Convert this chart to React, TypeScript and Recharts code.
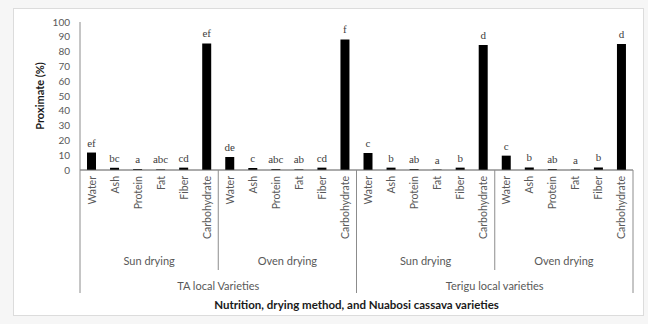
import { Bar, BarChart, LabelList, XAxis, YAxis } from "recharts";

const nutrients = ["Water", "Ash", "Protein", "Fat", "Fiber", "Carbohydrate"];
const dryingMethods = ["Sun drying", "Oven drying"];
const varieties = ["TA local Varieties", "Terigu local varieties"];

// proximate (%) per nutrient, same order as nutrients
const taSun = [11.8, 1.5, 0.6, 0.4, 1.6, 85.5];
const taOven = [8.8, 1.4, 0.6, 0.4, 1.6, 88.2];
const teriguSun = [11.5, 1.6, 0.6, 0.3, 1.6, 84.5];
const teriguOven = [9.7, 1.7, 0.6, 0.3, 1.7, 85.2];

const taSunLetters = ["ef", "bc", "a", "abc", "cd", "ef"];
const taOvenLetters = ["de", "c", "abc", "ab", "cd", "f"];
const teriguSunLetters = ["c", "b", "ab", "a", "b", "d"];
const teriguOvenLetters = ["c", "b", "ab", "a", "b", "d"];

const yTicks = [0, 10, 20, 30, 40, 50, 60, 70, 80, 90, 100];

const series = [
  [taSun, taSunLetters],
  [taOven, taOvenLetters],
  [teriguSun, teriguSunLetters],
  [teriguOven, teriguOvenLetters],
] as const;

const rows = series.flatMap(([values, letters], s) =>
  nutrients.map((n, i) => ({
    id: `${s}-${n}`,
    nutrient: n,
    variety: varieties[Math.floor(s / 2)],
    drying: dryingMethods[s % 2],
    value: values[i],
    letter: letters[i],
  }))
);

const W = 648;
const H = 324;
const MARGIN = { top: 22, right: 15, bottom: 14, left: 20 };
const Y_AXIS_W = 60;
const PLOT_W = W - MARGIN.left - MARGIN.right - Y_AXIS_W;
const BAND = PLOT_W / rows.length;

const FONT = "Lato, 'Open Sans', sans-serif";
const GREY = "#595959";
const LINE = "#8c8c8c";

function CategoryTick(props: any) {
  const { x, y, payload } = props;
  const idx = rows.findIndex((r) => r.id === payload.value);
  const row = rows[idx];
  const axisY = y - 6;
  const pos = idx % nutrients.length;
  const left = x - BAND / 2;
  const right = x + BAND / 2;
  const isVarietyStart = idx % (nutrients.length * 2) === 0;

  return (
    <g>
      <text
        x={x}
        y={y}
        transform={`rotate(-90, ${x}, ${y})`}
        textAnchor="end"
        dominantBaseline="central"
        fontSize={10.5}
        fontFamily={FONT}
        fill={GREY}
      >
        {row.nutrient}
      </text>
      {pos === 0 && (
        <line
          x1={left}
          x2={left}
          y1={axisY}
          y2={axisY + (isVarietyStart ? 123 : 100)}
          stroke={LINE}
        />
      )}
      {idx === rows.length - 1 && (
        <line x1={right} x2={right} y1={axisY} y2={axisY + 123} stroke={LINE} />
      )}
      {pos === 2 && (
        <text
          x={right}
          y={axisY + 95}
          textAnchor="middle"
          fontSize={11}
          fontFamily={FONT}
          fill={GREY}
        >
          {row.drying}
        </text>
      )}
      {idx % (nutrients.length * 2) === nutrients.length - 1 && (
        <text
          x={right}
          y={axisY + 120}
          textAnchor="middle"
          fontSize={11}
          fontFamily={FONT}
          fill={GREY}
        >
          {row.variety}
        </text>
      )}
    </g>
  );
}

export default function App() {
  return (
    <div
      style={{
        position: "absolute",
        left: 0,
        top: 0,
        width: W,
        height: H,
        background: "#f6f6f6",
      }}
    >
      <div
        style={{
          position: "absolute",
          left: 13,
          top: 8,
          width: 629,
          height: 306,
          background: "#fff",
          border: "1px solid #dcdcdc",
        }}
      />
      <div style={{ position: "absolute", left: 0, top: 0 }}>
        <BarChart width={W} height={H} data={rows} margin={MARGIN}>
          <XAxis
            dataKey="id"
            interval={0}
            height={140}
            tickLine={false}
            tickSize={0}
            tickMargin={6}
            axisLine={{ stroke: "#595959" }}
            tick={<CategoryTick />}
            label={{
              content: (p: any) => {
                const vb = p.viewBox;
                return (
                  <text
                    x={vb.x + vb.width / 2}
                    y={vb.y + 139}
                    textAnchor="middle"
                    fontSize={11.5}
                    fontWeight="bold"
                    fontFamily={FONT}
                    fill="#1a1a1a"
                  >
                    Nutrition, drying method, and Nuabosi cassava varieties
                  </text>
                );
              },
            }}
          />
          <YAxis
            width={Y_AXIS_W}
            domain={[0, 100]}
            ticks={yTicks}
            interval={0}
            tickLine={false}
            tickMargin={4}
            axisLine={{ stroke: LINE }}
            tick={{ fill: GREY, fontSize: 10, fontFamily: FONT }}
            label={{
              content: (p: any) => {
                const vb = p.viewBox;
                const cx = vb.x + 19;
                const cy = vb.y + vb.height / 2;
                return (
                  <text
                    x={cx}
                    y={cy}
                    transform={`rotate(-90, ${cx}, ${cy})`}
                    textAnchor="middle"
                    dominantBaseline="central"
                    fontSize={11}
                    fontWeight="bold"
                    fontFamily={FONT}
                    fill="#1a1a1a"
                  >
                    Proximate (%)
                  </text>
                );
              },
            }}
          />
          <Bar dataKey="value" fill="#000" barSize={9} isAnimationActive={false}>
            <LabelList
              dataKey="letter"
              position="top"
              offset={6}
              fontSize={11}
              fontFamily="'Liberation Serif', serif"
              fill="#404040"
            />
          </Bar>
        </BarChart>
      </div>
    </div>
  );
}
